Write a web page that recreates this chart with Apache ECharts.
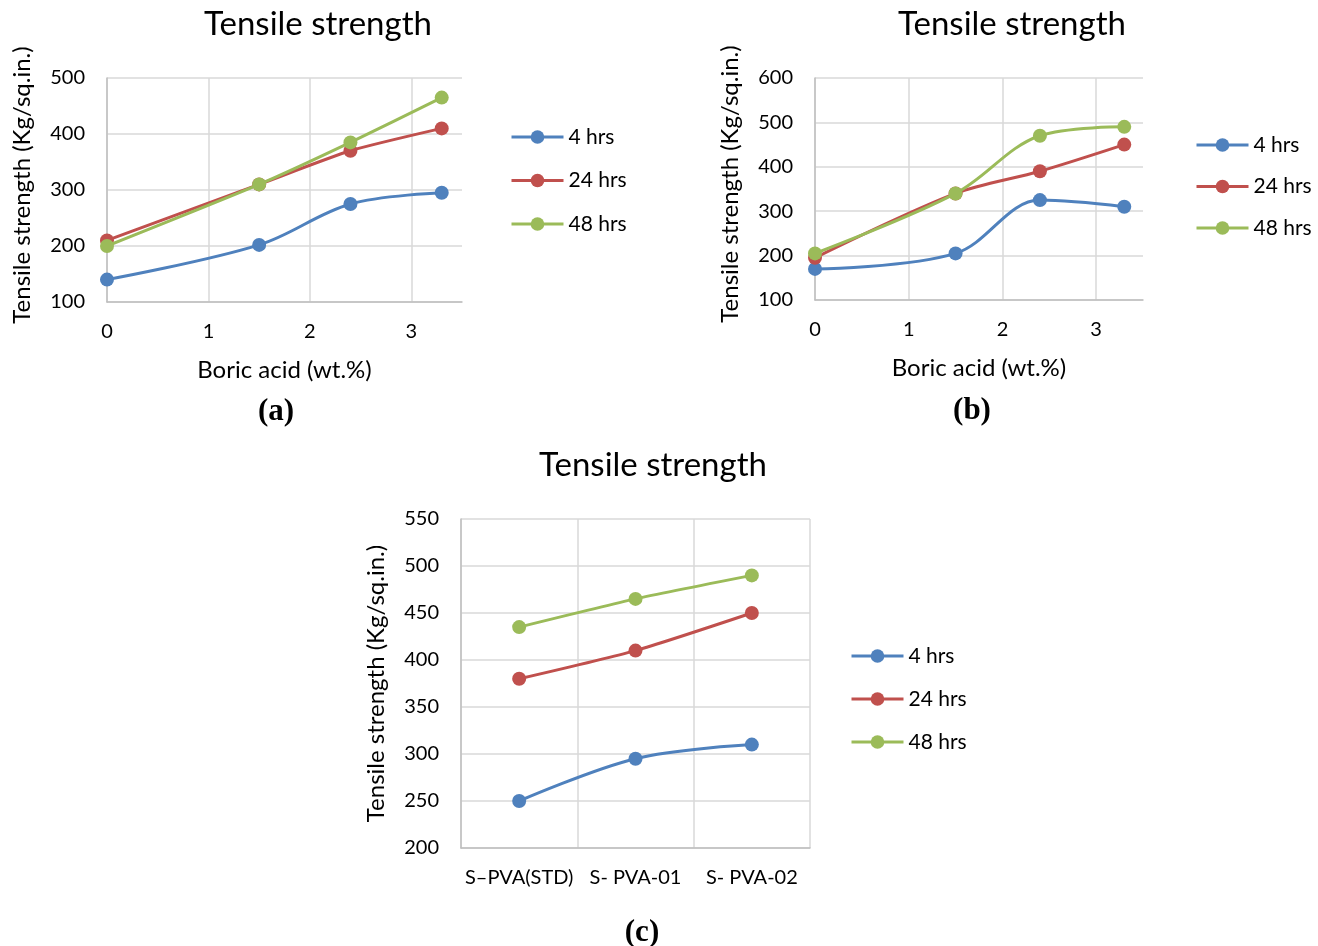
<!DOCTYPE html>
<html>
<head>
<meta charset="utf-8">
<script src="https://cdn.jsdelivr.net/npm/echarts@6.0.0/dist/echarts.min.js"></script>
<style>
html,body{margin:0;padding:0;background:#fff;}
#main{width:1318px;height:946px;}
</style>
</head>
<body>
<div id="main"></div>
<script>
// ---- data ----
const boricAcid = [0, 1.5, 2.4, 3.3];
const seriesNames = ['4 hrs', '24 hrs', '48 hrs'];
const a4 = [140, 202, 275, 295];
const a24 = [210, 310, 370, 410];
const a48 = [200, 310, 385, 465];
const b4 = [170, 205, 325, 310];
const b24 = [195, 340, 390, 450];
const b48 = [205, 340, 470, 490];
const samples = ['S\u2013PVA(STD)', 'S- PVA-01', 'S- PVA-02'];
const c4 = [250, 295, 310];
const c24 = [380, 410, 450];
const c48 = [435, 465, 490];
const yTitle = 'Tensile strength (Kg/sq.in.)';
const xTitle = 'Boric acid (wt.%)';
const chartTitle = 'Tensile strength';
const panelLabels = ['(a)', '(b)', '(c)'];

const colors = ['#4F81BD', '#C0504D', '#9BBB59'];
const FONT = 'Lato';
const TXT = '#000';

const chart = echarts.init(document.getElementById('main'));

function pairs(xs, ys) { return xs.map((x, i) => [x, ys[i]]); }

function valueX(idx) {
  return {
    type: 'value', gridIndex: idx, min: 0, max: 3.5, interval: 1,
    name: xTitle, nameLocation: 'middle', nameGap: 56,
    nameTextStyle: { fontFamily: FONT, fontSize: 24, color: TXT },
    axisLine: { show: true, lineStyle: { color: '#bfbfbf', width: 1.5 } },
    axisTick: { show: false },
    axisLabel: { fontFamily: FONT, fontSize: 20, color: TXT, margin: 20, showMaxLabel: false,
      formatter: v => (Number.isInteger(v) ? String(v) : '') },
    splitLine: { show: true, showMaxLine: false, lineStyle: { color: '#d9d9d9', width: 1.5 } }
  };
}
function valueY(idx, min, max, interval, namePad) {
  return {
    type: 'value', gridIndex: idx, min: min, max: max, interval: interval,
    name: yTitle, nameLocation: 'middle', nameGap: 73,
    nameTextStyle: { fontFamily: FONT, fontSize: 24, color: TXT, padding: [0, 0, 0, namePad] },
    axisLine: { show: true, lineStyle: { color: '#bfbfbf', width: 1.5 } },
    axisTick: { show: false },
    axisLabel: { fontFamily: FONT, fontSize: 20, color: TXT, margin: 22 },
    splitLine: { show: true, lineStyle: { color: '#d9d9d9', width: 1.5 } }
  };
}
function lineSeries(name, data, xi, yi, smooth) {
  const ci = seriesNames.indexOf(name);
  return {
    type: 'line', name: name, data: data, xAxisIndex: xi, yAxisIndex: yi,
    smooth: smooth, symbol: 'circle', symbolSize: 14,
    itemStyle: { color: colors[ci] },
    lineStyle: { color: colors[ci], width: 3 },
    z: 3 + ci
  };
}
function legend(left, top, gap) {
  return {
    data: seriesNames, orient: 'vertical', left: left, top: top, padding: 0,
    itemWidth: 52, itemHeight: 17, itemGap: gap, itemTextGap: 2,
    lineStyle: { width: 3 },
    textStyle: { fontFamily: FONT, fontSize: 21, color: TXT, lineHeight: 22 }
  };
}
function title(text, x, y, size, font, weight) {
  return { text: text, left: x, top: y, padding: 0, textAlign: 'center',
    textStyle: { fontFamily: font, fontSize: size, fontWeight: weight, color: TXT } };
}

const option = {
  backgroundColor: '#fff',
  animation: false,
  title: [
    title(chartTitle, 318, 8, 33, FONT, 'normal'),
    title(chartTitle, 1012, 8, 33, FONT, 'normal'),
    title(chartTitle, 653, 449, 33, FONT, 'normal'),
    title(panelLabels[0], 276, 396, 31, 'Liberation Serif', 'bold'),
    title(panelLabels[1], 972, 395, 31, 'Liberation Serif', 'bold'),
    title(panelLabels[2], 642, 917, 31, 'Liberation Serif', 'bold')
  ],
  legend: [legend(510, 126, 21.5), legend(1195, 134, 19.5), legend(850, 645, 21)],
  grid: [
    { left: 107, top: 78, width: 355, height: 224 },
    { left: 815, top: 78, width: 328, height: 222 },
    { left: 461, top: 519, width: 349, height: 329 }
  ],
  xAxis: [
    valueX(0),
    valueX(1),
    {
      type: 'category', gridIndex: 2, data: samples, boundaryGap: true,
      axisLine: { show: true, lineStyle: { color: '#bfbfbf', width: 1.5 } },
      axisTick: { show: false },
      axisLabel: { fontFamily: FONT, fontSize: 20, color: TXT, margin: 20, interval: 0 },
      splitLine: { show: true, interval: 0, lineStyle: { color: '#d9d9d9', width: 1.5 } }
    }
  ],
  yAxis: [
    valueY(0, 100, 500, 100, 10),
    valueY(1, 100, 600, 100, 10),
    valueY(2, 200, 550, 50, 0)
  ],
  series: [
    lineSeries('4 hrs', pairs(boricAcid, a4), 0, 0, 0.35),
    lineSeries('24 hrs', pairs(boricAcid, a24), 0, 0, 0.2),
    lineSeries('48 hrs', pairs(boricAcid, a48), 0, 0, 0.2),
    lineSeries('4 hrs', pairs(boricAcid, b4), 1, 1, 0.35),
    lineSeries('24 hrs', pairs(boricAcid, b24), 1, 1, 0.3),
    lineSeries('48 hrs', pairs(boricAcid, b48), 1, 1, 0.35),
    lineSeries('4 hrs', c4, 2, 2, 0.35),
    lineSeries('24 hrs', c24, 2, 2, 0.2),
    lineSeries('48 hrs', c48, 2, 2, 0.2)
  ]
};
chart.setOption(option);
</script>
</body>
</html>
